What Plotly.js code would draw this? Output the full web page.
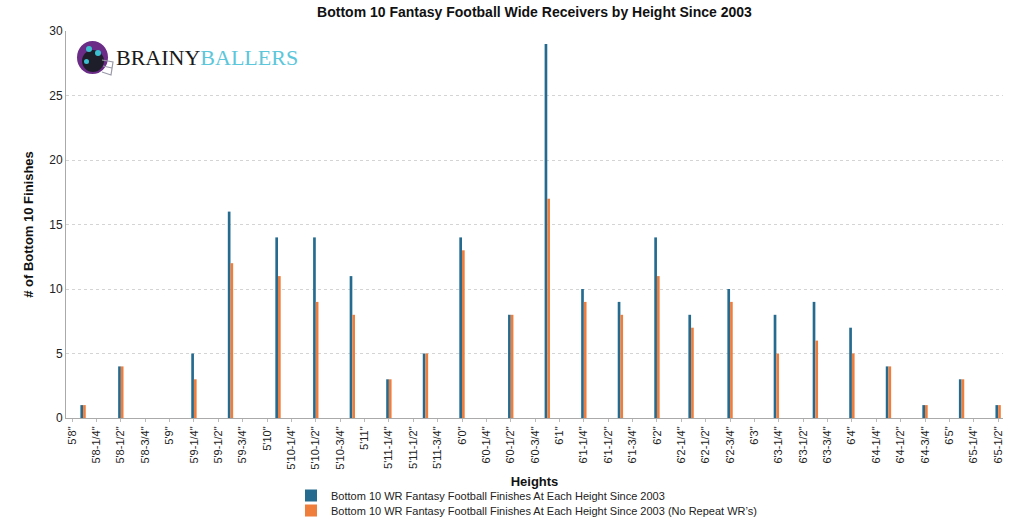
<!DOCTYPE html>
<html>
<head>
<meta charset="utf-8">
<script src="https://cdn.plot.ly/plotly-3.0.1.min.js"></script>
<style>html,body{margin:0;padding:0;background:#fff;}#chart{width:1024px;height:517px;}</style>
</head>
<body>
<div id="chart"></div>
<script>
// Height labels along the x axis (quarter-inch steps)
const heightLabels = ["5'8\"","5'8-1/4\"","5'8-1/2\"","5'8-3/4\"","5'9\"","5'9-1/4\"","5'9-1/2\"","5'9-3/4\"",
  "5'10\"","5'10-1/4\"","5'10-1/2\"","5'10-3/4\"","5'11\"","5'11-1/4\"","5'11-1/2\"","5'11-3/4\"",
  "6'0\"","6'0-1/4\"","6'0-1/2\"","6'0-3/4\"","6'1\"","6'1-1/4\"","6'1-1/2\"","6'1-3/4\"",
  "6'2\"","6'2-1/4\"","6'2-1/2\"","6'2-3/4\"","6'3\"","6'3-1/4\"","6'3-1/2\"","6'3-3/4\"",
  "6'4\"","6'4-1/4\"","6'4-1/2\"","6'4-3/4\"","6'5\"","6'5-1/4\"","6'5-1/2\""];

// Where each bar pair sits along the height axis (in label-step units, as drawn in the source)
const barSlot = [0.45, 2, 5, 6.5, 8.45, 10, 11.5, 13, 14.5, 16, 18, 19.5, 21, 22.5, 24, 25.4, 27, 28.9, 30.5, 32, 33.5, 35, 36.5, 38];

// Series values
const allFinishes =      [1, 4, 5, 16, 14, 14, 11, 3, 5, 14, 8, 29, 10, 9, 14, 8, 10, 8, 9, 7, 4, 1, 3, 1];
const noRepeatFinishes = [1, 4, 3, 12, 11,  9,  8, 3, 5, 13, 8, 17,  9, 8, 11, 7,  9, 5, 6, 5, 4, 1, 3, 1];

const seriesNames = [
  "Bottom 10 WR Fantasy Football Finishes At Each Height Since 2003",
  "Bottom 10 WR Fantasy Football Finishes At Each Height Since 2003 (No Repeat WR\u2019s)"
];

const tickIdx = heightLabels.map((_, i) => i);

const traces = [
  {type: 'bar', x: barSlot, y: allFinishes, name: seriesNames[0], legend: 'legend',
   marker: {color: '#246b8f'}, width: 0.11, offset: -0.11},
  {type: 'bar', x: barSlot, y: noRepeatFinishes, name: seriesNames[1], legend: 'legend2',
   marker: {color: '#ef7d3c'}, width: 0.11, offset: 0}
];

function px(x){ return (x - 66) / 937; }
function py(y){ return (418 - y) / 387; }

const helmetShapes = [
  {type: 'circle', xref: 'paper', yref: 'paper', x0: px(77), x1: px(108), y0: py(74), y1: py(41),
   fillcolor: '#6a2c86', line: {width: 0}},
  {type: 'circle', xref: 'paper', yref: 'paper', x0: px(82), x1: px(104), y0: py(72), y1: py(50),
   fillcolor: '#1e1e2a', line: {width: 0}},
  {type: 'circle', xref: 'paper', yref: 'paper', x0: px(86), x1: px(92), y0: py(52), y1: py(46),
   fillcolor: '#3cc0d0', line: {width: 0}},
  {type: 'circle', xref: 'paper', yref: 'paper', x0: px(95), x1: px(101), y0: py(56), y1: py(50),
   fillcolor: '#3cc0d0', line: {width: 0}},
  {type: 'circle', xref: 'paper', yref: 'paper', x0: px(84), x1: px(89), y0: py(64), y1: py(59),
   fillcolor: '#3cc0d0', line: {width: 0}},
  {type: 'path', xref: 'paper', yref: 'paper',
   path: 'M ' + px(102) + ' ' + py(60) + ' L ' + px(113) + ' ' + py(62) + ' L ' + px(111) + ' ' + py(75) + ' L ' + px(102) + ' ' + py(72) +
         ' M ' + px(103) + ' ' + py(66) + ' L ' + px(112) + ' ' + py(68),
   line: {color: '#9a9aa8', width: 1.2}}
];

const legendBase = {orientation: 'v', xanchor: 'left', yanchor: 'top',
  font: {size: 11, color: '#222'}, bgcolor: 'rgba(0,0,0,0)', itemwidth: 30, borderwidth: 0};

const layout = {
  width: 1024, height: 517,
  margin: {l: 66, r: 21, t: 31, b: 99, autoexpand: false},
  paper_bgcolor: '#ffffff', plot_bgcolor: '#ffffff',
  font: {family: 'Liberation Sans, Arial, sans-serif', color: '#222'},
  title: {text: '<b>Bottom 10 Fantasy Football Wide Receivers by Height Since 2003</b>',
          font: {size: 14, color: '#111'}, x: 0.5, xref: 'paper', xanchor: 'center', y: 0.977, yanchor: 'middle'},
  barmode: 'overlay',
  showlegend: true,
  legend: Object.assign({}, legendBase, {x: px(291), y: py(481)}),
  legend2: Object.assign({}, legendBase, {x: px(291), y: py(496)}),
  xaxis: {
    type: 'linear', range: [-0.25, 38.2], automargin: false,
    tickmode: 'array', tickvals: tickIdx, ticktext: heightLabels,
    tickangle: -90, tickfont: {size: 11, color: '#222'},
    ticks: 'outside', ticklen: 3, tickcolor: '#bbb',
    showgrid: false, zeroline: false,
    showline: true, linecolor: '#aaa', linewidth: 1,
    title: {text: '<b>Heights</b>', font: {size: 13, color: '#111'}, standoff: 8},
    fixedrange: true
  },
  yaxis: {
    range: [0, 30], tickvals: [0, 5, 10, 15, 20, 25, 30], automargin: false,
    tickfont: {size: 12, color: '#222'},
    showgrid: true, gridcolor: '#d4d4d4', griddash: 'dot', gridwidth: 1,
    zeroline: false, showline: true, linecolor: '#aaa', linewidth: 1,
    ticks: '', ticklen: 0,
    title: {text: '<b># of Bottom 10 Finishes</b>', font: {size: 13, color: '#111'}, standoff: 12},
    fixedrange: true
  },
  shapes: helmetShapes,
  annotations: [
    {xref: 'paper', yref: 'paper', x: px(114), y: py(57), xanchor: 'left', yanchor: 'middle', showarrow: false,
     text: '<span style="color:#1a1a1a">BRAINY</span><span style="color:#5cc6da">BALLERS</span>',
     font: {family: 'Liberation Serif, Times New Roman, serif', size: 22}}
  ]
};

Plotly.newPlot('chart', traces, layout, {displayModeBar: false, staticPlot: true});
</script>
</body>
</html>
